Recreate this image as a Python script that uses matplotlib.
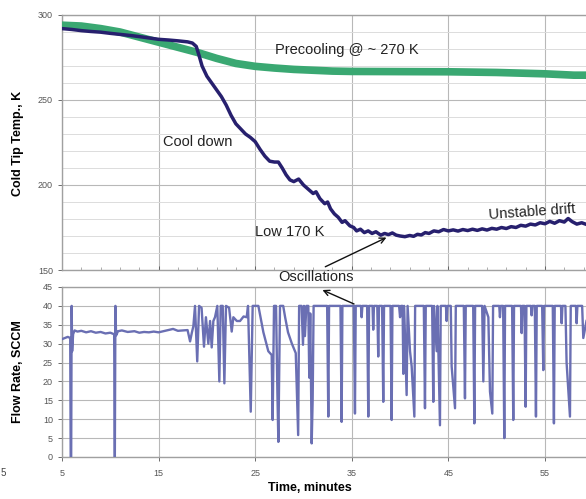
import matplotlib.pyplot as plt
import numpy as np

plt.rcParams['font.family'] = ['Liberation Sans', 'DejaVu Sans']

# cold tip temperature, K
cool_t = [5.0, 6, 7, 8, 9, 10, 11, 12, 13, 14, 15, 16, 17, 18, 18.5, 18.9, 19.2, 19.5,
          20.0, 20.5, 21.0, 21.5, 22.0, 22.5, 23.0, 23.5, 24.0, 24.5, 25.0, 25.5, 26.0,
          26.5, 27.0, 27.4, 27.8, 28.2, 28.6, 29.0, 29.5, 30.0, 30.5, 31.0, 31.3, 31.7,
          32.2, 32.5, 32.8, 33.2, 33.6, 34.0, 34.3, 34.8, 35.2, 35.5, 35.9, 36.3, 36.7,
          37.1, 37.5, 38.0, 38.4, 38.8, 39.2, 39.6, 40.0, 40.5, 41.0, 41.4, 41.8, 42.2,
          42.6, 43.0, 43.5, 44.0, 44.5, 45.0, 45.5, 46.0, 46.5, 47.0, 47.5, 48.0, 48.5,
          49.0, 49.5, 50.0, 50.5, 51.0, 51.5, 52.0, 52.5, 53.0, 53.5, 54.0, 54.5, 55.0,
          55.5, 56.0, 56.5, 57.0, 57.4, 57.8, 58.3, 58.8, 59.3]
cool_T = [292.0, 291.5, 290.8, 290.3, 289.9, 289.2, 288.6, 288.0, 287.3, 286.5, 285.7,
          285.3, 284.8, 284.2, 283.5, 281.5, 276, 270, 264, 260, 256, 252, 247, 241, 236,
          233, 230, 228, 225.5, 221, 217, 214, 213.5, 213.5, 210, 206, 203, 202, 203.5,
          200, 197.5, 195, 196, 192, 189, 190, 186, 183, 181, 178, 179, 176, 175, 173,
          174, 172, 173, 171.5, 172.5, 170.5, 171.5, 170.8, 171.8, 170.5, 170, 169.6,
          170.3, 169.8, 171, 170.6, 172, 171.5, 173, 172.5, 173.8, 173.0, 173.6, 172.9,
          173.8, 173.2, 174, 173.3, 174.2, 173.5, 174.5, 174, 175, 174.4, 175.5, 175,
          176.3, 175.8, 177, 176.5, 177.8, 177.2, 178.6, 177.5, 179, 178.2, 180.3, 178.5,
          177, 177.8, 176.8]

pre_t = [5, 7, 9, 11, 13, 15, 17, 19, 21, 23, 25, 27, 29, 31, 33, 35, 40, 45, 50, 55, 58, 59.3]
pre_T = [294, 293.5, 292, 290, 287, 284, 281, 278, 274.5, 271.5, 269.8, 268.8, 268, 267.5,
         267, 266.8, 266.7, 266.6, 266.2, 265.4, 264.6, 264.6]

# flow rate, SCCM  (minute, value)
flow_pts = [
    (5.0, 31.2), (5.3, 31.5), (5.6, 31.8), (5.85, 31.5), (5.9, 0), (5.95, 0), (6.0, 40),
    (6.05, 28), (6.15, 32.5), (6.3, 33.5), (6.6, 33.2), (7.0, 33.4), (7.5, 33.0),
    (8.0, 33.3), (8.5, 32.9), (9.0, 33.1), (9.5, 32.7), (10.0, 32.9), (10.4, 32.5),
    (10.47, 0), (10.53, 40), (10.6, 32.2), (10.8, 33.3), (11.2, 33.5), (11.8, 33.1),
    (12.5, 33.3), (13.0, 32.9), (13.5, 33.1), (14.0, 33.0), (14.5, 33.2), (15.0, 33.0),
    (15.5, 33.3), (16.0, 33.6), (16.5, 33.9), (17.0, 33.4), (17.5, 33.5), (18.0, 33.6),
    (18.26, 30.6), (18.45, 33.0), (18.6, 34.6), (18.77, 40), (19.0, 25.3), (19.19, 40),
    (19.45, 39.5), (19.7, 29.2), (19.9, 37), (20.15, 30), (20.33, 36), (20.5, 29),
    (20.67, 36), (20.84, 37), (21.08, 40), (21.29, 20), (21.43, 40), (21.64, 40),
    (21.81, 19.5), (21.98, 40), (22.3, 39.5), (22.57, 33.2), (22.74, 37), (23.1, 36),
    (23.43, 36), (23.8, 37.2), (24.12, 37), (24.26, 40), (24.54, 12), (24.74, 40),
    (25.33, 40), (25.85, 33), (26.36, 28), (26.71, 27), (26.81, 9.8), (26.95, 40),
    (27.16, 40), (27.3, 17), (27.4, 4), (27.57, 40), (27.9, 40), (28.1, 37), (28.4, 33),
    (28.8, 30), (29.2, 27.5), (29.45, 5.8), (29.55, 40), (29.8, 40), (29.95, 29.7),
    (30.05, 40), (30.15, 32), (30.3, 40), (30.5, 40), (30.6, 21), (30.7, 38), (30.85, 3.6),
    (30.95, 15), (31.05, 40), (32.45, 40), (32.57, 10.7), (32.65, 40), (33.83, 40),
    (33.95, 9.3), (34.03, 40), (35.21, 40), (35.33, 11.5), (35.41, 40), (35.95, 40),
    (36.02, 37), (36.1, 40), (36.59, 40), (36.71, 10.7), (36.79, 40), (37.15, 40),
    (37.22, 33.7), (37.3, 40), (37.64, 40), (37.74, 26.6), (37.82, 40), (38.14, 40),
    (38.26, 14.6), (38.34, 40), (39.01, 40), (39.13, 9.8), (39.21, 40), (39.9, 40),
    (40.0, 37), (40.1, 40), (40.26, 40), (40.34, 22), (40.42, 40), (40.68, 16.4),
    (40.78, 40), (41.03, 28), (41.2, 24), (41.48, 10.7), (41.56, 40), (42.46, 40),
    (42.58, 12.9), (42.66, 40), (43.32, 40), (43.44, 14.6), (43.52, 40), (43.79, 28),
    (43.87, 40), (44.13, 8.4), (44.21, 40), (44.75, 40), (44.82, 36), (44.9, 40),
    (45.25, 40), (45.34, 24), (45.69, 12.9), (45.77, 40), (46.6, 40), (46.72, 15.5),
    (46.8, 40), (47.57, 40), (47.69, 8.9), (47.77, 40), (48.5, 40), (48.62, 20),
    (48.75, 40), (49.14, 37), (49.31, 17.3), (49.55, 11.5), (49.63, 40), (50.27, 40),
    (50.34, 37), (50.42, 40), (50.67, 40), (50.79, 5), (50.87, 40), (51.6, 40),
    (51.72, 9.8), (51.8, 40), (52.52, 40), (52.59, 32.8), (52.67, 40), (52.88, 40),
    (53.0, 13.3), (53.08, 40), (53.55, 40), (53.62, 37.5), (53.7, 40), (53.95, 40),
    (54.07, 10.7), (54.15, 40), (54.71, 40), (54.83, 23), (54.91, 40), (55.81, 40),
    (55.93, 8.9), (56.01, 40), (56.66, 40), (56.73, 35.4), (56.81, 40), (57.12, 40),
    (57.24, 25), (57.59, 10.7), (57.67, 40), (58.21, 40), (58.28, 35.4), (58.36, 40),
    (58.85, 40), (58.97, 31.5), (59.3, 36),
]
flow_t = [p[0] for p in flow_pts]
flow_F = [p[1] for p in flow_pts]

x_ticks = [5, 15, 25, 35, 45, 55]
temp_ticks = [150, 200, 250, 300]
flow_ticks = [0, 5, 10, 15, 20, 25, 30, 35, 40, 45]

W, H = 586, 499
fig = plt.figure(figsize=(W / 100, H / 100), dpi=100)

x_left = 62 / W
ax1 = fig.add_axes([x_left, 1 - 270 / H, 1 - x_left, 255 / H])
ax2 = fig.add_axes([x_left, 1 - 457 / H, 1 - x_left, 170 / H])

grid_major = '#b8b8b8'
grid_minor = '#dcdcdc'
tick_col = '#555555'

for ax in (ax1, ax2):
    ax.set_xlim(5, 59.25)
    ax.set_xticks(x_ticks)
    ax.spines['right'].set_visible(False)
    for s in ('left', 'bottom', 'top'):
        ax.spines[s].set_color('#a0a0a0')
        ax.spines[s].set_linewidth(1.0)
    ax.tick_params(axis='both', labelsize=6.5, colors=tick_col, length=3, width=0.6)
    ax.grid(True, which='major', color=grid_major, lw=0.8)
    ax.set_axisbelow(True)

# top panel
ax1.set_ylim(150, 300)
ax1.set_yticks(temp_ticks)
ax1.set_yticks(np.arange(150, 301, 10), minor=True)
ax1.set_xticks(np.arange(5, 60, 2), minor=True)
ax1.tick_params(axis='x', which='both', labelbottom=False, direction='in')
ax1.tick_params(axis='x', which='minor', length=2, color='#a0a0a0')
ax1.tick_params(axis='y', which='minor', length=0)
ax1.grid(True, which='minor', axis='y', color=grid_minor, lw=0.7)
ax1.plot(pre_t, pre_T, color='#3aa872', lw=5.5, solid_capstyle='round', zorder=3)
ax1.plot(cool_t, cool_T, color='#27206e', lw=2.5, zorder=4)

ax1.text(27.05, 279.4, 'Precooling @ ~ 270 K', fontsize=10.5, va='center', color='#222222')
ax1.text(15.45, 225.3, 'Cool down', fontsize=10.5, va='center', color='#222222')
ax1.text(25.0, 172.4, 'Low 170 K', fontsize=10.5, va='center', color='#222222')
ax1.text(49.1, 184.3, 'Unstable drift', fontsize=10.5, va='center', rotation=4,
         color='#222222', clip_on=False)
ax1.text(27.4, 145.9, 'Oscillations', fontsize=10.5, va='center', color='#222222',
         clip_on=False)
ax1.annotate('', xy=(38.85, 169.8), xytext=(32.0, 151.2), annotation_clip=False,
             arrowprops=dict(arrowstyle='->', color='#111111', lw=1.0))

# bottom panel
ax2.set_ylim(0, 45)
ax2.set_yticks(flow_ticks)
ax2.tick_params(axis='x', pad=6)
ax2.plot(flow_t, flow_F, color='#6a6fb3', lw=1.7, zorder=3)
ax2.annotate('', xy=(31.7, 44.5), xytext=(35.5, 40.2), annotation_clip=False,
             arrowprops=dict(arrowstyle='->', color='#111111', lw=1.0))

fig.text(18 / W, 1 - 143 / H, 'Cold Tip Temp., K', rotation=90, ha='center', va='center',
         fontsize=9, fontweight='bold')
fig.text(18 / W, 1 - 372 / H, 'Flow Rate, SCCM', rotation=90, ha='center', va='center',
         fontsize=9, fontweight='bold')
fig.text(310 / W, 1 - 488 / H, 'Time, minutes', ha='center', va='center',
         fontsize=9, fontweight='bold')
fig.text(1 / W, 1 - 473 / H, '5', ha='left', va='center', fontsize=7, color='#444444')

fig.savefig('out.png', dpi=100)
